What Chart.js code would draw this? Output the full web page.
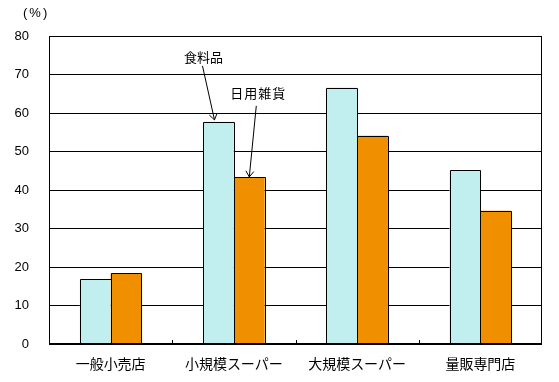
<!DOCTYPE html>
<html>
<head>
<meta charset="utf-8">
<script src="https://cdn.jsdelivr.net/npm/chart.js@4/dist/chart.umd.min.js"></script>
<style>
html,body{margin:0;padding:0;background:#fff;}
#wrap{width:559px;height:382px;position:relative;}
</style>
</head>
<body>
<div id="wrap"><canvas id="c" width="559" height="382"></canvas></div>
<script>
const categories = ['一般小売店', '小規模スーパー', '大規模スーパー', '量販専門店'];
const foodValues = [16.8, 57.7, 66.6, 45.2];
const goodsValues = [18.4, 43.4, 54.1, 34.6];
const seriesNames = ['食料品', '日用雑貨'];
const yTicks = [0, 10, 20, 30, 40, 50, 60, 70, 80];
const unitLabel = '(%)';

const CJK = '"Noto Sans CJK JP", "Noto Sans", sans-serif';
const LAT = '"Liberation Sans", Arial, sans-serif';

function arrow(ctx, x1, y1, x2, y2) {
  ctx.beginPath();
  ctx.moveTo(x1, y1);
  ctx.lineTo(x2, y2);
  const a = Math.atan2(y2 - y1, x2 - x1);
  const L = 7, w = 0.6;
  ctx.moveTo(x2 - L * Math.cos(a - w), y2 - L * Math.sin(a - w));
  ctx.lineTo(x2, y2);
  ctx.lineTo(x2 - L * Math.cos(a + w), y2 - L * Math.sin(a + w));
  ctx.stroke();
}

const decor = {
  id: 'decor',
  afterDatasetsDraw(chart) {
    const ctx = chart.ctx;
    const ca = chart.chartArea;
    const xs = chart.scales.x;
    ctx.save();
    ctx.strokeStyle = '#000';
    ctx.lineWidth = 1;
    // crisp bar outlines from the bar elements
    chart.data.datasets.forEach((ds, di) => {
      chart.getDatasetMeta(di).data.forEach(b => {
        const l = Math.round(b.x - b.width / 2) + 0.5;
        const r = Math.round(b.x + b.width / 2) + 0.5;
        const t = Math.round(b.y) + 0.5;
        const bo = Math.round(b.base) + 0.5;
        ctx.beginPath();
        ctx.moveTo(l, bo); ctx.lineTo(l, t); ctx.lineTo(r, t); ctx.lineTo(r, bo);
        ctx.stroke();
      });
    });
    // plot area frame
    ctx.strokeRect(Math.round(ca.left) + 0.5, Math.round(ca.top) + 0.5,
                   Math.round(ca.right - ca.left) - 1, Math.round(ca.bottom - ca.top) - 1);
    // inner category tick marks
    const half = (xs.getPixelForValue(1) - xs.getPixelForValue(0)) / 2;
    for (let i = 0; i < categories.length - 1; i++) {
      const x = Math.round(xs.getPixelForValue(i) + half) + 0.5;
      ctx.beginPath();
      ctx.moveTo(x, ca.bottom);
      ctx.lineTo(x, ca.bottom - 4);
      ctx.stroke();
    }
    // unit label
    ctx.fillStyle = '#000';
    ctx.font = '13px ' + LAT;
    ctx.textBaseline = 'middle';
    ctx.textAlign = 'left';
    ctx.letterSpacing = '2px';
    ctx.fillText(unitLabel, 23, 13);
    ctx.letterSpacing = '0px';
    // series annotations on 小規模スーパー
    const b0 = chart.getDatasetMeta(0).data[1];
    const b1 = chart.getDatasetMeta(1).data[1];
    ctx.lineWidth = 1;
    ctx.font = '13px ' + CJK;
    ctx.textAlign = 'center';
    // 食料品
    let ex = b0.x - 4, ey = b0.y - 2;
    let sx = ex - 12, sy = ey - 54;
    arrow(ctx, sx, sy, ex, ey);
    ctx.fillText(seriesNames[0], sx + 1, sy - 9);
    // 日用雑貨
    ex = b1.x; ey = b1.y;
    sx = ex + 7; sy = ey - 71;
    arrow(ctx, sx, sy, ex, ey);
    ctx.letterSpacing = '1px';
    ctx.fillText(seriesNames[1], sx + 2, sy - 13);
    ctx.restore();
  }
};

new Chart(document.getElementById('c'), {
  type: 'bar',
  data: {
    labels: categories,
    datasets: [
      { label: seriesNames[0], data: foodValues, backgroundColor: '#C1EFEF', borderWidth: 0, inflateAmount: 0 },
      { label: seriesNames[1], data: goodsValues, backgroundColor: '#F09000', borderWidth: 0, inflateAmount: 0 }
    ]
  },
  options: {
    responsive: false,
    animation: false,
    devicePixelRatio: 1,
    layout: { padding: { left: 0, right: 17, top: 36, bottom: 0 } },
    plugins: { legend: { display: false }, tooltip: { enabled: false }, title: { display: false } },
    datasets: { bar: { barPercentage: 1.0, categoryPercentage: 0.5 } },
    scales: {
      x: {
        grid: { display: false, drawTicks: false },
        border: { display: false },
        ticks: { color: '#000', font: { family: CJK, size: 14 }, padding: 11, maxRotation: 0, autoSkip: false },
        afterFit(s) { s.height = 38; }
      },
      y: {
        min: 0, max: 80,
        afterBuildTicks(s) { s.ticks = yTicks.map(v => ({ value: v })); },
        grid: { color: '#000', lineWidth: 1, drawTicks: false },
        border: { display: false },
        ticks: { color: '#000', font: { family: LAT, size: 13 }, padding: 20 },
        afterFit(s) { s.width = 49; }
      }
    }
  },
  plugins: [decor]
});
</script>
</body>
</html>
